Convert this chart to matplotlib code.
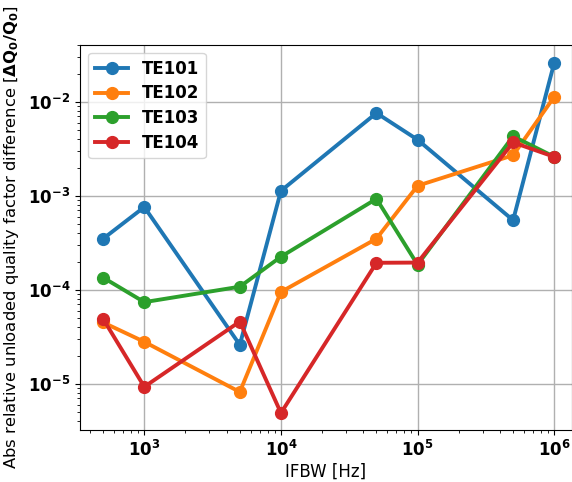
import matplotlib
matplotlib.use("Agg")
import matplotlib.pyplot as plt

ifbw = [500, 1000, 5000, 10000, 50000, 100000, 500000, 1000000]
te101 = [3.5e-4, 7.6e-4, 2.6e-5, 1.13e-3, 7.6e-3, 3.95e-3, 5.5e-4, 2.6e-2]
te102 = [4.5e-5, 2.8e-5, 8.2e-6, 9.5e-5, 3.5e-4, 1.28e-3, 2.7e-3, 1.13e-2]
te103 = [1.35e-4, 7.4e-5, 1.08e-4, 2.25e-4, 9.3e-4, 1.85e-4, 4.3e-3, 2.6e-3]
te104 = [4.9e-5, 9.3e-6, 4.6e-5, 4.9e-6, 1.94e-4, 1.95e-4, 3.7e-3, 2.6e-3]
modes = ["TE101", "TE102", "TE103", "TE104"]

fig = plt.figure(figsize=(5.72, 4.82), dpi=100)
ax = fig.add_axes([0.14, 0.108, 0.86, 0.799])

for name, vals in zip(modes, [te101, te102, te103, te104]):
    ax.plot(ifbw, vals, "-o", lw=2.8, ms=8.5, label=name)

ax.set_xscale("log")
ax.set_yscale("log")
ax.set_xlim(10**2.53, 10**6.13)
ax.set_ylim(10**-5.49, 10**-1.394)
ax.grid(True, which="major", color="#b0b0b0", lw=1)

for lab in ax.get_xticklabels() + ax.get_yticklabels():
    lab.set_fontweight("bold")
ax.tick_params(axis="both", which="major", labelsize=12)

ax.set_xlabel("IFBW [Hz]", fontsize=12, labelpad=2)
ax.set_ylabel(r"Abs relative unloaded quality factor difference [$\mathbf{\Delta Q_0/Q_0}$]",
              fontsize=11.8)
ax.yaxis.set_label_coords(-0.12, 0.5)
ax.legend(loc="upper left", prop={"weight": "bold", "size": 12}, labelspacing=0.4)

fig.savefig("out.png", dpi=100)
